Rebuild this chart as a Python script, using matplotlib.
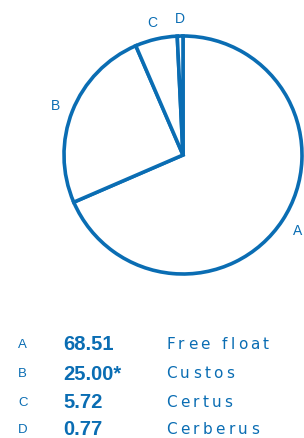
import matplotlib.pyplot as plt

letters = ['A', 'B', 'C', 'D']
shares = [68.51, 25.00, 5.72, 0.77]
value_labels = ['68.51', '25.00*', '5.72', '0.77']
owners = ['Free float', 'Custos', 'Certus', 'Cerberus']

blue = '#0a6db3'
W, H = 304, 439

fig = plt.figure(figsize=(W / 100, H / 100), dpi=100)

# pie: centre (183, 156) px, radius 119 px
cx, cy, r = 183, 156, 119
ax = fig.add_axes([(cx - r) / W, (H - cy - r) / H, 2 * r / W, 2 * r / H])
wedges, texts = ax.pie(shares, labels=letters, startangle=90, counterclock=False,
                       colors=['white'] * 4, labeldistance=1.15,
                       wedgeprops=dict(edgecolor=blue, linewidth=2.6),
                       textprops=dict(color=blue, fontsize=10, family='Liberation Sans'))
for t in texts:
    t.set_ha('center')
    t.set_va('center')
ax.set_xlim(-1, 1)
ax.set_ylim(-1, 1)
ax.set_aspect('equal')
ax.axis('off')

renderer = fig.canvas.get_renderer()


def spaced_text(x_px, fy, s, spacing_px, **kw):
    # draw a string with extra letter spacing, one glyph at a time
    x = x_px
    for ch in s:
        t = fig.text(x / W, fy, ch, **kw)
        w = t.get_window_extent(renderer).width if ch != ' ' else kw['fontsize'] * 0.32 * 100 / 72
        x += w + spacing_px


# table below the pie
rows_y = [345, 374, 403, 430]
for y, let, val, name in zip(rows_y, letters, value_labels, owners):
    fy = 1 - y / H
    fig.text(18 / W, fy, let, color=blue, fontsize=9.5, family='Liberation Sans', va='center')
    fig.text(63 / W, fy, val, color=blue, fontsize=14.5, fontweight='bold',
             family='Liberation Sans', va='center')
    spaced_text(166, fy, name, 3.3, color=blue, fontsize=11, family='DejaVu Sans',
                va='center')

fig.savefig('out.png', dpi=100)
